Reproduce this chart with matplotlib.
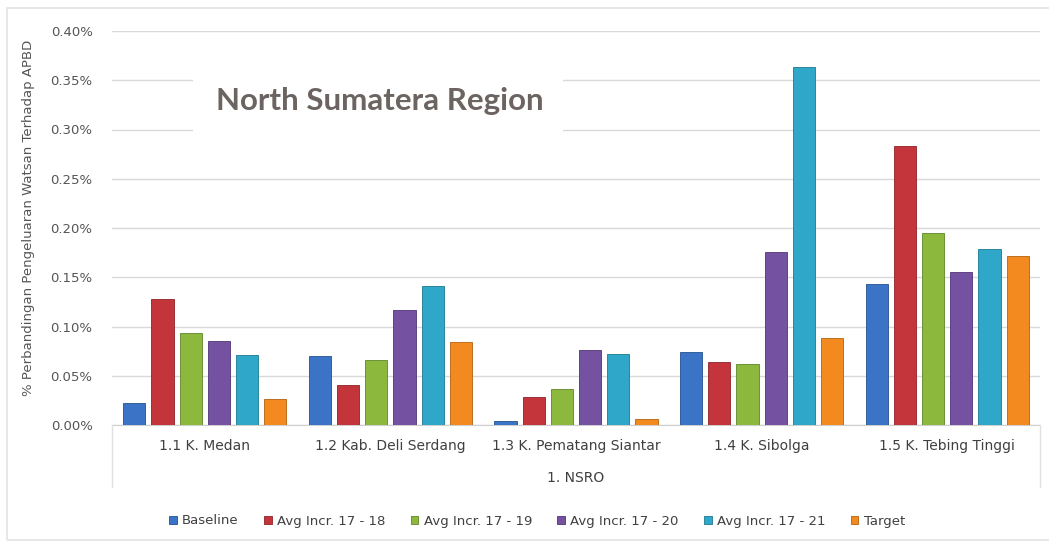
import numpy as np
import matplotlib.pyplot as plt
from matplotlib.patches import Rectangle
from matplotlib.lines import Line2D

plt.rcParams['font.family'] = ['DejaVu Sans']

# Data (values in %)
categories = ['1.1 K. Medan', '1.2 Kab. Deli Serdang', '1.3 K. Pematang Siantar',
              '1.4 K. Sibolga', '1.5 K. Tebing Tinggi']
series_names = ['Baseline', 'Avg Incr. 17 - 18', 'Avg Incr. 17 - 19',
                'Avg Incr. 17 - 20', 'Avg Incr. 17 - 21', 'Target']
baseline = [0.0223, 0.0700, 0.0040, 0.0740, 0.1430]
incr_18 = [0.1280, 0.0406, 0.0284, 0.0640, 0.2830]
incr_19 = [0.0934, 0.0660, 0.0365, 0.0620, 0.1950]
incr_20 = [0.0853, 0.1168, 0.0760, 0.1756, 0.1550]
incr_21 = [0.0710, 0.1410, 0.0720, 0.3635, 0.1790]
target = [0.0264, 0.0843, 0.0060, 0.0883, 0.1716]
yticks = [0.00, 0.05, 0.10, 0.15, 0.20, 0.25, 0.30, 0.35, 0.40]

series = [baseline, incr_18, incr_19, incr_20, incr_21, target]
colors = ['#3b74c6', '#c4353b', '#8cb83e', '#7551a1', '#2ea7c8', '#f28a20']
edges = ['#24508f', '#8e2227', '#5f8526', '#4f3575', '#1a7892', '#b5600e']

fig = plt.figure(figsize=(10.49, 5.43), dpi=100)
ax = fig.add_axes([112 / 1049, 1 - 425 / 543, 928 / 1049, 394 / 543])

x = np.arange(len(categories))
slot = 0.152
width = 0.12
for i, (vals, c, ec) in enumerate(zip(series, colors, edges)):
    ax.bar(x + (i - 2.5) * slot, vals, width, color=c, edgecolor=ec,
           linewidth=0.6, label=series_names[i], zorder=3)

ax.set_xlim(-0.5, len(categories) - 0.5)
ax.set_ylim(0, 0.40)
ax.set_yticks(yticks)
ax.set_yticklabels([f'{v:.2f}%' for v in yticks], color='#555555', fontsize=9.5)
ax.yaxis.grid(True, color='#d9d9d9', linewidth=1, zorder=0)
ax.set_axisbelow(True)
ax.tick_params(axis='y', length=0, pad=14)
ax.tick_params(axis='x', length=0, pad=10)
ax.set_xticks(x)
ax.set_xticklabels(categories, color='#404040', fontsize=10)
for s in ['top', 'right', 'left']:
    ax.spines[s].set_visible(False)
ax.spines['bottom'].set_color('#cfcfcf')

ax.set_ylabel('% Perbandingan Pengeluaran Watsan Terhadap APBD',
              color='#555555', fontsize=9.5)
ax.yaxis.set_label_coords(-0.083, 0.525)

# multi-level axis side lines
for xf in [112 / 1049, 1040 / 1049]:
    fig.add_artist(Line2D([xf, xf], [1 - 425 / 543, 1 - 487 / 543],
                          color='#e0e0e0', linewidth=1, transform=fig.transFigure))
fig.text(576 / 1049, 1 - 478 / 543, '1. NSRO', ha='center', va='center',
         color='#404040', fontsize=10)

# title box
fig.add_artist(Rectangle((193 / 1049, 1 - 142 / 543), 370 / 1049, 78 / 543,
                         transform=fig.transFigure, facecolor='white',
                         edgecolor='none', zorder=2))
fig.text(380 / 1049, 1 - 101 / 543, 'North Sumatera Region', ha='center',
         va='center', fontsize=22.5, fontweight='bold', color='#6b6461',
         family=['Lato', 'DejaVu Sans'], zorder=4)

# outer frame
fig.add_artist(Rectangle((7 / 1049, 1 - 540 / 543), 1045 / 1049, 532 / 543,
                         transform=fig.transFigure, facecolor='none',
                         edgecolor='#e3e3e3', linewidth=1.2))

handles, labels = ax.get_legend_handles_labels()
fig.legend(handles, labels, loc='center', bbox_to_anchor=(537 / 1049, 1 - 521 / 543),
           ncol=6, frameon=False, fontsize=9.5, handlelength=0.6, handleheight=0.6,
           handletextpad=0.4, columnspacing=1.9, labelcolor='#404040')

fig.savefig('out.png', dpi=100, facecolor='white')
